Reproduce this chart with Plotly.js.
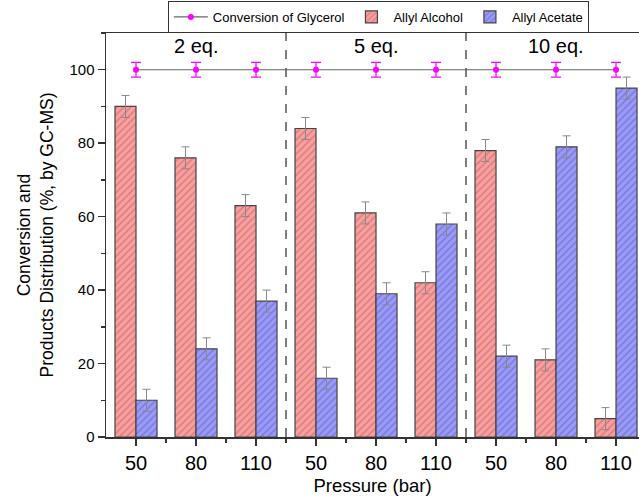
<!DOCTYPE html>
<html>
<head>
<meta charset="utf-8">
<script src="https://cdn.plot.ly/plotly-3.0.1.min.js"></script>
<style>html,body{margin:0;padding:0;overflow:hidden;background:#fff}</style>
</head>
<body>
<div id="chart" style="width:639px;height:497px"></div>
<script>
const pressures = ['50','80','110','50','80','110','50','80','110'];
const eqLabels = ['2 eq.','5 eq.','10 eq.'];
const allylAlcohol = [90, 76, 63, 84, 61, 42, 78, 21, 5];
const allylAlcoholErr = [3, 3, 3, 3, 3, 3, 3, 3, 3];
const allylAcetate = [10, 24, 37, 16, 39, 58, 22, 79, 95];
const allylAcetateErr = [3, 3, 3, 3, 3, 3, 3, 3, 3];
const glycerolConv = [100, 100, 100, 100, 100, 100, 100, 100, 100];
const glycerolErr = [2, 2, 2, 2, 2, 2, 2, 2, 2];

const xIdx = pressures.map((p, i) => i);

const traces = [
  {
    type: 'scatter', mode: 'lines+markers', name: 'Conversion of Glycerol',
    x: xIdx, y: glycerolConv,
    line: {color: '#666', width: 1.2},
    marker: {color: '#ff00ff', size: 6},
    error_y: {type: 'data', array: glycerolErr, visible: true, color: '#ff00ff', thickness: 1.2, width: 5}
  },
  {
    type: 'bar', name: 'Allyl Alcohol', x: xIdx, y: allylAlcohol, offsetgroup: 'a',
    marker: {color: '#f7a0a0', line: {color: '#444', width: 1.2},
      pattern: {shape: '/', fgcolor: '#e07a7a', bgcolor: '#f7a0a0', size: 5, solidity: 0.3}},
    error_y: {type: 'data', array: allylAlcoholErr, visible: true, color: '#888', thickness: 1, width: 4}
  },
  {
    type: 'bar', name: 'Allyl Acetate', x: xIdx, y: allylAcetate, offsetgroup: 'b',
    marker: {color: '#9a9af7', line: {color: '#444', width: 1.2},
      pattern: {shape: '/', fgcolor: '#7a7ae0', bgcolor: '#9a9af7', size: 5, solidity: 0.3}},
    error_y: {type: 'data', array: allylAcetateErr, visible: true, color: '#888', thickness: 1, width: 4}
  }
];

const shapes = [2.5, 5.5].map(v => ({
  type: 'line', xref: 'x', yref: 'paper', x0: v, x1: v, y0: 0, y1: 1,
  line: {color: '#555', width: 1.5, dash: 'dash'}, layer: 'above'
}));

const annotations = eqLabels.map((t, i) => ({
  text: t, x: 1 + 3 * i, y: 106.5, xref: 'x', yref: 'y', showarrow: false,
  font: {family: 'Arial, Liberation Sans', size: 20, color: '#000'}
}));

const layout = {
  width: 639, height: 497,
  margin: {l: 106, r: 0, t: 33, b: 60},
  paper_bgcolor: '#fff', plot_bgcolor: '#fff',
  font: {family: 'Arial, Liberation Sans', color: '#000'},
  barmode: 'group', bargap: 0.3, bargroupgap: 0,
  showlegend: true,
  legend: {
    orientation: 'h', x: 0.116, y: 1.0, xanchor: 'left', yanchor: 'bottom',
    bordercolor: '#333', borderwidth: 1, bgcolor: '#fff',
    font: {size: 13, family: 'Arial, Liberation Sans'},
    itemwidth: 34, tracegroupgap: 0, traceorder: 'normal'
  },
  xaxis: {
    range: [-0.5, 8.383],
    tickmode: 'array', tickvals: xIdx, ticktext: pressures,
    ticks: 'outside', ticklen: 7, tickwidth: 1.5, tickcolor: '#333',
    tickfont: {size: 20},
    showline: true, linecolor: '#333', linewidth: 1.5, mirror: true,
    showgrid: false, zeroline: false,
    minor: {tickmode: 'array', tickvals: [0.5, 1.5, 2.5, 3.5, 4.5, 5.5, 6.5, 7.5], ticks: 'outside', ticklen: 4, tickwidth: 1.5, tickcolor: '#333'},
    title: {text: 'Pressure (bar)', font: {size: 18.5}, standoff: 6}
  },
  yaxis: {
    range: [0, 110],
    tickvals: [0, 20, 40, 60, 80, 100],
    ticks: 'outside', ticklen: 7, tickwidth: 1.5, tickcolor: '#333',
    tickfont: {size: 15},
    showline: true, linecolor: '#333', linewidth: 1.5,
    showgrid: false, zeroline: false,
    minor: {tickvals: [10, 30, 50, 70, 90, 110], ticks: 'outside', ticklen: 4, tickwidth: 1.5, tickcolor: '#333'},
    title: {text: 'Conversion and<br>Products Distribution (%, by GC-MS)', font: {size: 17.5}, standoff: 11}
  },
  shapes: shapes,
  annotations: annotations
};

Plotly.newPlot('chart', traces, layout, {displayModeBar: false, staticPlot: true});
</script>
</body>
</html>
